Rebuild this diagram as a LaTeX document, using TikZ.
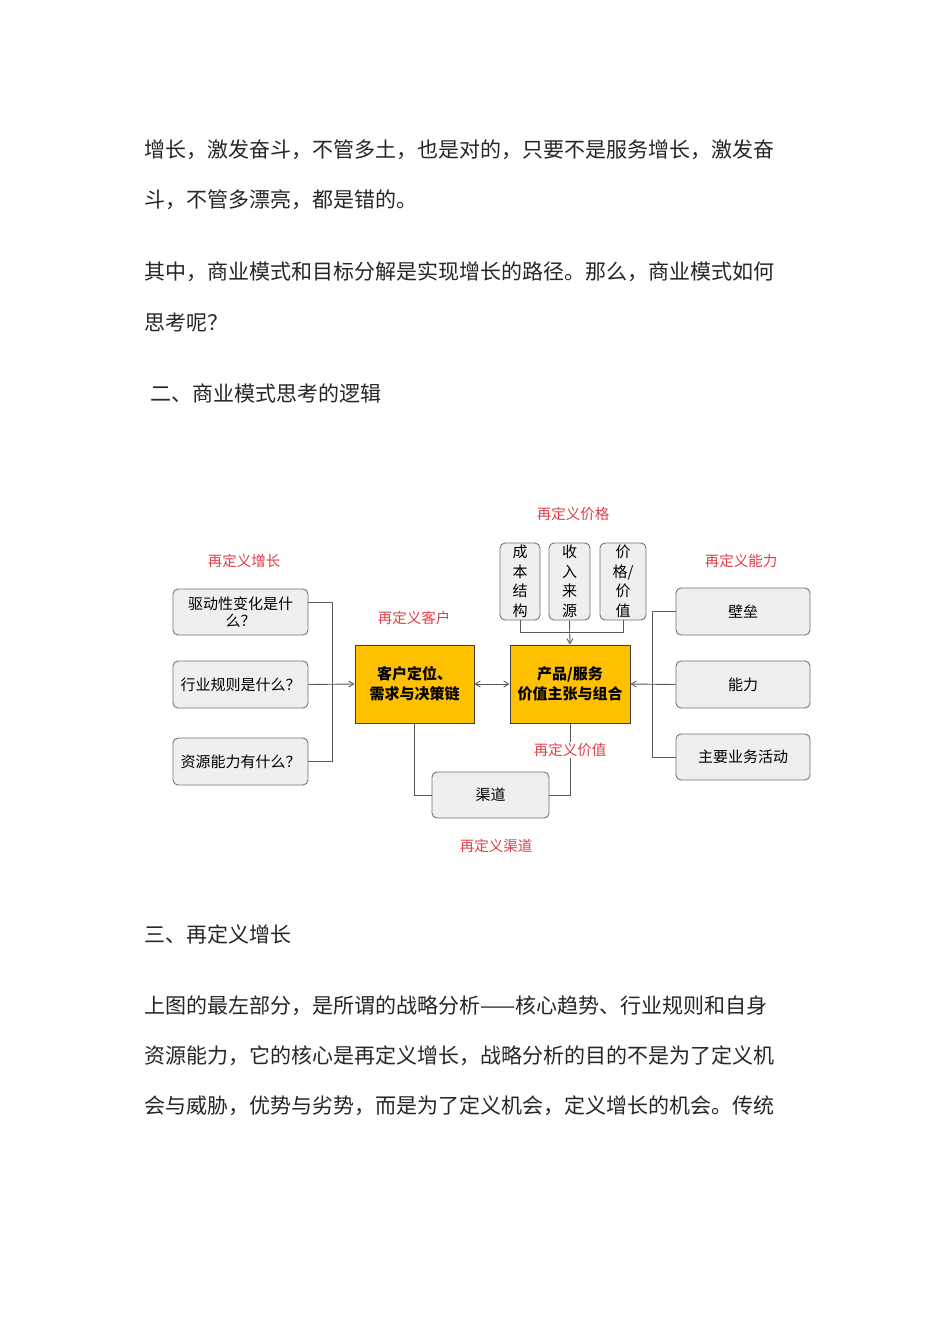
\documentclass[tikz,border=0pt]{standalone}
\usepackage{fontspec}
\setmainfont{Noto Sans CJK SC}
\usetikzlibrary{arrows.meta}
\definecolor{redlab}{HTML}{E0404A}
\definecolor{boxg}{HTML}{EFEFEF}
\definecolor{yel}{HTML}{FFC000}
\begin{document}
\begin{tikzpicture}[x=1pt,y=-1pt,
  body/.style={anchor=west,font=\fontsize{21}{21}\selectfont,text=black!85,inner sep=0},
  lab/.style={font=\fontsize{14.5}{15}\selectfont,text=redlab,inner sep=1pt},
  gbox/.style={draw=black!55,fill=boxg,rounded corners=5pt,line width=0.9pt,font=\fontsize{15}{17}\selectfont,align=center,inner sep=1pt},
  ybox/.style={draw=black!75,fill=yel,line width=1pt,font=\bfseries\fontsize{15}{20}\selectfont,align=center,inner sep=1pt},
  ln/.style={draw=black!65,line width=0.9pt},
  arr/.style={ln,-{Straight Barb[length=5pt,width=6pt]}}]
\useasboundingbox (0,0) rectangle (950,1344);
\fill[white] (0,0) rectangle (950,1344);
% body text
\node[body] (t1) at (144,150) {增长，激发奋斗，不管多土，也是对的，只要不是服务增长，激发奋};
\node[body] (t2) at (144,200) {斗，不管多漂亮，都是错的。};
\node[body] (t3) at (144,272) {其中，商业模式和目标分解是实现增长的路径。那么，商业模式如何};
\node[body] (t4) at (144,322) {思考呢？};
\node[body] (t5) at (150,393) {二、商业模式思考的逻辑};
\node[body] (t6) at (144,934) {三、再定义增长};
\node[body] (t7) at (144,1006) {上图的最左部分，是所谓的战略分析——核心趋势、行业规则和自身};
\node[body] (t8) at (144,1056) {资源能力，它的核心是再定义增长，战略分析的目的不是为了定义机};
\node[body] (t9) at (144,1106) {会与威胁，优势与劣势，而是为了定义机会，定义增长的机会。传统};
% diagram boxes
\node[gbox,minimum width=135pt,minimum height=46pt,text width=128pt] (b1) at (240.5,612) {驱动性变化是什\\么？};
\node[gbox,minimum width=135pt,minimum height=47pt] (b2) at (240.5,684.5) {行业规则是什么？};
\node[gbox,minimum width=135pt,minimum height=47pt] (b3) at (240.5,761.5) {资源能力有什么？};
\node[ybox,minimum width=119pt,minimum height=78pt] (cu) at (414.5,684) {客户定位、\\需求与决策链};
\node[ybox,minimum width=120pt,minimum height=78pt] (pr) at (570,684) {产品/服务\\价值主张与组合};
\node[gbox,minimum width=40pt,minimum height=77pt,font=\fontsize{15}{19.5}\selectfont] (p1) at (520,581.5) {成\\本\\结\\构};
\node[gbox,minimum width=41pt,minimum height=77pt,font=\fontsize{15}{19.5}\selectfont] (p2) at (569.5,581.5) {收\\入\\来\\源};
\node[gbox,minimum width=46pt,minimum height=77pt,font=\fontsize{15}{19.5}\selectfont] (p3) at (623,581.5) {价\\格/\\价\\值};
\node[gbox,minimum width=134pt,minimum height=47pt] (r1) at (743,611.5) {壁垒};
\node[gbox,minimum width=134pt,minimum height=47pt] (r2) at (743,684.5) {能力};
\node[gbox,minimum width=134pt,minimum height=46pt] (r3) at (743,757) {主要业务活动};
\node[gbox,minimum width=117pt,minimum height=46pt] (ch) at (490.5,795) {渠道};
\coordinate (lx) at (332,0);
\coordinate (rx) at (652,0);
\coordinate (py) at (0,632);
% connectors
\draw[ln] (b1.east |- 0,602) -| (lx |- b3.east) -- (b3.east);
\draw[arr] (b2.east) -- (cu.west);
\draw[ln,{Straight Barb[length=5pt,width=6pt]}-{Straight Barb[length=5pt,width=6pt]}] (cu.east) -- (pr.west);
\draw[ln] (p1.south) |- (p3.south |- py) -- (p3.south);
\draw[arr] (p2.south) -- (pr.north);
\draw[ln] (r1.west) -| (rx |- r3.west) -- (r3.west);
\draw[arr] (r2.west) -- (pr.east);
\draw[ln] (cu.south) |- (ch.west);
\draw[ln] (ch.east) -| (pr.south);
% labels
\node[lab] (l1) at (573,514) {再定义价格};
\node[lab] (l2) at (244,561) {再定义增长};
\node[lab] (l3) at (414,618) {再定义客户};
\node[lab] (l4) at (741,561) {再定义能力};
\node[lab,fill=white] (l5) at (570,750) {再定义价值};
\node[lab] (l6) at (496,846) {再定义渠道};
\end{tikzpicture}
\end{document}
